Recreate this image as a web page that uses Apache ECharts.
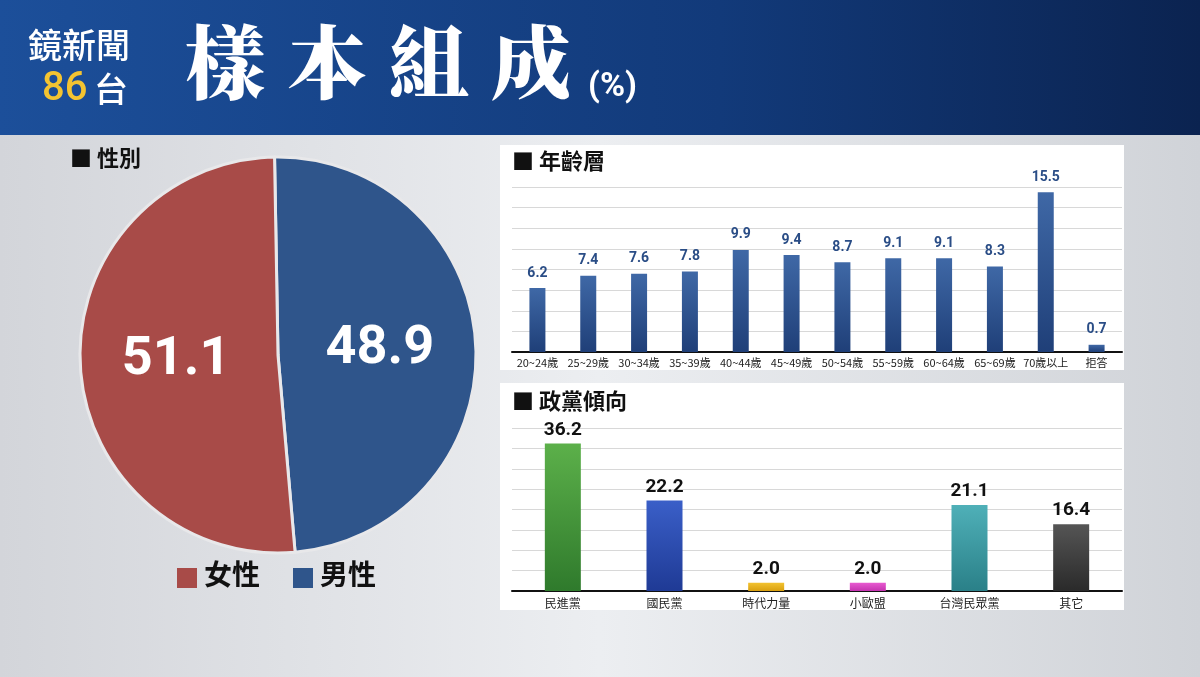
<!DOCTYPE html>
<html><head><meta charset="utf-8">
<script src="https://cdn.jsdelivr.net/npm/echarts@6/dist/echarts.min.js"></script>
<style>html,body{margin:0;padding:0;}#main{width:1200px;height:677px;}</style>
</head><body>
<div id="main"></div>
<script>
// 性別
const genderNames = ['男性', '女性'];
const genderValues = [48.9, 51.1];
// 年齡層
const ageLabels = ['20~24歲', '25~29歲', '30~34歲', '35~39歲', '40~44歲', '45~49歲', '50~54歲', '55~59歲', '60~64歲', '65~69歲', '70歲以上', '拒答'];
const ageValues = [6.2, 7.4, 7.6, 7.8, 9.9, 9.4, 8.7, 9.1, 9.1, 8.3, 15.5, 0.7];
// 政黨傾向
const partyLabels = ['民進黨', '國民黨', '時代力量', '小歐盟', '台灣民眾黨', '其它'];
const partyValues = [36.2, 22.2, 2.0, 2.0, 21.1, 16.4];
const partyColors = [['#5cb04a', '#2f7a2c'], ['#3a5fc8', '#1f3a95'], ['#f2c230', '#d9a010'], ['#e85ad0', '#c433b0'], ['#4fb0b8', '#2a8088'], ['#555', '#2a2a2a']];
const titleChars = ['樣', '本', '組', '成'];

const font = '"Noto Sans CJK TC", "Noto Sans", sans-serif';
const numFont = 'Roboto, "Noto Sans", sans-serif';
const chart = echarts.init(document.getElementById('main'));

const grad = (a, b) => new echarts.graphic.LinearGradient(0, 0, 0, 1, [{offset: 0, color: a}, {offset: 1, color: b}]);

const graphics = [
  {type: 'rect', shape: {x: 0, y: 0, width: 1200, height: 135}, z: 0,
    style: {fill: new echarts.graphic.LinearGradient(0, 0, 1, 0, [{offset: 0, color: '#1c4f9a'}, {offset: 0.6, color: '#123a7a'}, {offset: 1, color: '#0b2350'}])}},
  {type: 'text', left: 28, top: 28, style: {text: '鏡新聞', fill: '#fff', font: '500 34px ' + font}},
  {type: 'text', left: 42, top: 70, style: {text: '86', fill: '#f4c431', font: '500 40px ' + numFont}},
  {type: 'text', left: 94, top: 72, style: {text: '台', fill: '#fff', font: '500 34px ' + font}},
  {type: 'text', left: 588, top: 70, style: {text: '(%)', fill: '#fff', font: 'bold 34px ' + numFont}},
  {type: 'text', left: 70, top: 147, style: {text: '■ 性別', fill: '#111', font: 'bold 22px ' + font}},
  {type: 'rect', shape: {x: 500, y: 145, width: 624, height: 225}, z: 0, style: {fill: '#ffffff'}},
  {type: 'rect', shape: {x: 500, y: 383, width: 624, height: 227}, z: 0, style: {fill: '#ffffff'}},
  {type: 'text', left: 512, top: 150, style: {text: '■ 年齡層', fill: '#111', font: 'bold 22px ' + font}},
  {type: 'text', left: 512, top: 390, style: {text: '■ 政黨傾向', fill: '#111', font: 'bold 22px ' + font}},
  {type: 'rect', shape: {x: 177, y: 568, width: 20, height: 20}, style: {fill: '#a84b48'}},
  {type: 'text', left: 204, top: 560, style: {text: '女性', fill: '#111', font: 'bold 28px ' + font}},
  {type: 'rect', shape: {x: 293, y: 568, width: 20, height: 20}, style: {fill: '#2f558b'}},
  {type: 'text', left: 320, top: 560, style: {text: '男性', fill: '#111', font: 'bold 28px ' + font}}
];
titleChars.forEach((c, i) => graphics.push({type: 'text', left: 185 + i * 102, top: 22,
  style: {text: c, fill: '#fff', font: '900 80px "Noto Serif CJK TC", ' + font}}));

const option = {
  backgroundColor: new echarts.graphic.LinearGradient(0, 0, 1, 0, [
    {offset: 0, color: '#d3d5da'}, {offset: 0.5, color: '#eceef1'}, {offset: 1, color: '#d0d3d8'}]),
  textStyle: {fontFamily: font},
  graphic: graphics,
  grid: [
    {left: 512, right: 78, top: 187, height: 165},
    {left: 512, right: 78, top: 428, height: 163}
  ],
  xAxis: [
    {type: 'category', gridIndex: 0, data: ageLabels, axisTick: {show: false},
      axisLine: {lineStyle: {color: '#111', width: 2}},
      axisLabel: {color: '#222', fontSize: 11, interval: 0, margin: 5}},
    {type: 'category', gridIndex: 1, data: partyLabels, axisTick: {show: false},
      axisLine: {lineStyle: {color: '#111', width: 2}},
      axisLabel: {color: '#222', fontSize: 12, interval: 0, margin: 6}}
  ],
  yAxis: [
    {type: 'value', gridIndex: 0, min: 0, max: 16, interval: 2, axisLabel: {show: false},
      axisLine: {show: false}, splitLine: {lineStyle: {color: '#d8d8d8'}}},
    {type: 'value', gridIndex: 1, min: 0, max: 40, interval: 5, axisLabel: {show: false},
      axisLine: {show: false}, splitLine: {lineStyle: {color: '#d8d8d8'}}}
  ],
  series: [
    {type: 'pie', center: [278, 355], radius: 198, startAngle: 91, clockwise: true,
      data: genderNames.map((n, i) => ({name: n, value: genderValues[i]})),
      color: ['#2f558b', '#a84b48'],
      itemStyle: {borderColor: '#e8e8ea', borderWidth: 3},
      label: {position: 'inside', formatter: p => p.value.toFixed(1), color: '#fff', fontSize: 54, fontWeight: 'bold', fontFamily: numFont},
      labelLine: {show: false}, emphasis: {disabled: true}},
    {type: 'bar', xAxisIndex: 0, yAxisIndex: 0, data: ageValues, barWidth: 16,
      itemStyle: {color: grad('#3f68a6', '#1f3f78')},
      label: {show: true, position: 'top', distance: 8, formatter: p => p.value.toFixed(1), color: '#2a4d86', fontSize: 14, fontWeight: 'bold', fontFamily: numFont}},
    {type: 'bar', xAxisIndex: 1, yAxisIndex: 1, barWidth: 36,
      data: partyValues.map((v, i) => ({value: v, itemStyle: {color: grad(partyColors[i][0], partyColors[i][1])}})),
      label: {show: true, position: 'top', distance: 4, formatter: p => p.value.toFixed(1), color: '#111', fontSize: 19, fontWeight: 'bold', fontFamily: numFont}}
  ]
};
chart.setOption(option);
</script>
</body></html>
